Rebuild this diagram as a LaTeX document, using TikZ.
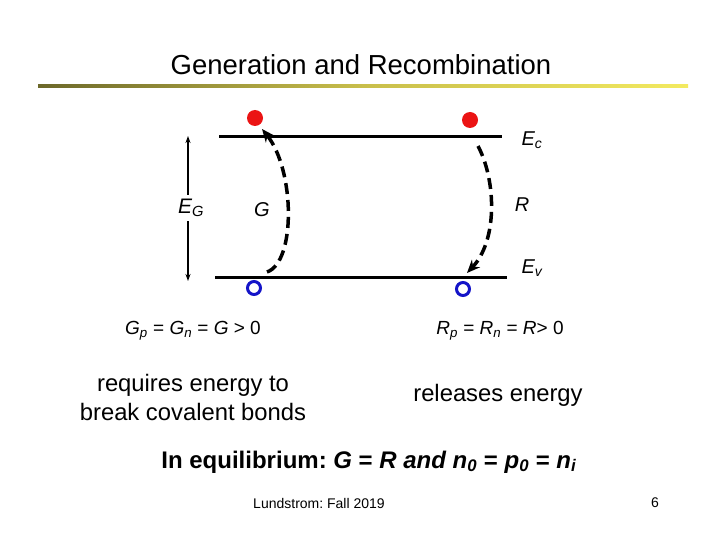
\documentclass[tikz,border=0pt]{standalone}
\usepackage{fontspec}
\setmainfont{Liberation Sans}
\usetikzlibrary{arrows.meta}
\frenchspacing
\newcommand\sbs[1]{\textsubscript{\textit{#1}}}
\definecolor{redfill}{RGB}{235,20,20}
\definecolor{holeblue}{RGB}{20,20,200}
\definecolor{olivel}{RGB}{108,104,42}
\definecolor{olivem}{RGB}{200,190,75}
\definecolor{yellowr}{RGB}{243,234,96}
\tikzset{
  band/.style={line width=3pt},
  electron/.style={circle, fill=redfill, minimum size=16pt, inner sep=0pt},
  hole/.style={circle, draw=holeblue, line width=3pt, minimum size=13pt, inner sep=0pt},
  trans/.style={line width=3.5pt, dash pattern=on 11pt off 6pt, -{Stealth[length=13pt,width=11pt]}},
  lbl/.style={font=\fontsize{20}{24}\selectfont\itshape, inner sep=1pt},
  body/.style={font=\fontsize{23.8}{29}\selectfont, align=center},
}
\begin{document}
\begin{tikzpicture}[x=1pt,y=-1pt]
\useasboundingbox (0,0) rectangle (720,540);
% title
\node[font=\fontsize{27.5}{32}\selectfont] (title) at (361,65) {Generation and Recombination};
\shade[left color=olivel, right color=yellowr, middle color=olivem] (38,84.5) rectangle (688,88);
% bands
\coordinate (ecL) at (219,137); \coordinate (ecR) at (502,137);
\coordinate (evL) at (215,277); \coordinate (evR) at (507,277);
\draw[band] (ecL) -- (ecR);
\draw[band] (evL) -- (evR);
% EG arrow
\coordinate (egT) at (188,136); \coordinate (egB) at (188,281);
\draw[line width=1.3pt, {Stealth[length=7pt,width=5pt]}-{Stealth[length=7pt,width=5pt]}] (egT) -- (egB);
\node[lbl, fill=white, inner sep=4pt, font=\fontsize{21}{24}\selectfont\itshape] (EG) at (191,208) {E\sbs{G}};
% carriers
\node[electron] (eL) at (255,118) {};
\node[hole] (hL) at (254,288) {};
\node[electron] (eR) at (470,120) {};
\node[hole] (hR) at (463,289) {};
% transitions
\coordinate (gS) at (267,272); \coordinate (gE) at (262,129);
\draw[trans] (gS) .. controls (296,262) and (295,170) .. (gE);
\coordinate (rS) at (478,146); \coordinate (rE) at (467,273);
\draw[trans] (rS) .. controls (496,180) and (498,240) .. (rE);
% labels
\node[lbl] (G) at (262,210) {G};
\node[lbl] (R) at (522,205) {R};
\node[lbl] (Ec) at (532,140) {E\sbs{c}};
\node[lbl] (Ev) at (532,268) {E\sbs{v}};
% equations
\node[font=\fontsize{19}{23}\selectfont] (eqG) at (193,331) {\textit{G}\sbs{p} = \textit{G}\sbs{n} = \textit{G} > 0};
\node[font=\fontsize{19}{23}\selectfont] (eqR) at (500,331) {\textit{R}\sbs{p} = \textit{R}\sbs{n} = \textit{R}> 0};
% text
\node[body] (req) at (193,397) {requires energy to\\break covalent bonds};
\node[body] (rel) at (498,395) {releases energy};
\node[font=\fontsize{24}{28}\selectfont\bfseries] (eq) at (369,462) {In equilibrium: \textit{G} = \textit{R and n}\sbs{0} = \textit{p}\sbs{0} = \textit{n}\sbs{i}};
\node[font=\fontsize{14}{17}\selectfont] (foot) at (319,503) {Lundstrom: Fall 2019};
\node[font=\fontsize{14}{17}\selectfont] (page) at (655,503) {6};
\end{tikzpicture}
\end{document}
